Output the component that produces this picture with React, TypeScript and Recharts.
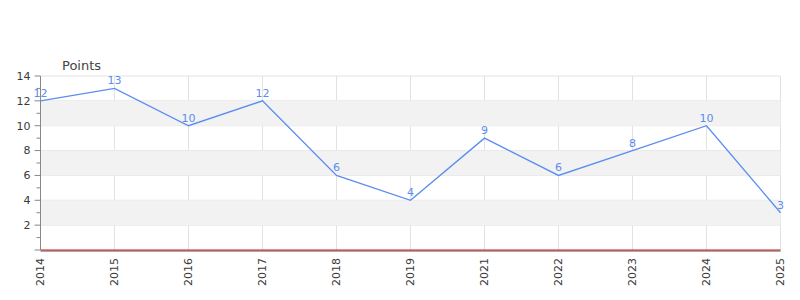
import React from "react";
import {
  LineChart,
  Line,
  XAxis,
  YAxis,
  CartesianGrid,
  ReferenceArea,
  ReferenceLine,
  LabelList,
} from "recharts";

const years = ["2014", "2015", "2016", "2017", "2018", "2019", "2021", "2022", "2023", "2024", "2025"];
const points = [12, 13, 10, 12, 6, 4, 9, 6, 8, 10, 3];
const yTicks = [0, 1, 2, 3, 4, 5, 6, 7, 8, 9, 10, 11, 12, 13, 14];
const gridValues = [2, 4, 6, 8, 10, 12, 14];
const bands: [number, number][] = [
  [2, 4],
  [6, 8],
  [10, 12],
];

const data = years.map((year, i) => ({ year, value: points[i] }));

const FONT = "'DejaVu Sans', Verdana, sans-serif";
const LINE = "#5b8def";

function YTick(props: any) {
  const { x, y, payload } = props;
  const v = payload.value as number;
  const major = v % 2 === 0;
  const x2 = x + 10;
  return (
    <g>
      <line x1={major ? x2 - 6 : x2 - 4} x2={x2} y1={y} y2={y} stroke="#888" />
      {major && v !== 0 && (
        <text x={x} y={y} dy="0.35em" textAnchor="end" fill="#3a3a3a" fontSize={11} fontFamily={FONT}>
          {v}
        </text>
      )}
    </g>
  );
}

function XTick(props: any) {
  const { x, y, payload } = props;
  return (
    <text
      x={x}
      y={y}
      dy="0.35em"
      textAnchor="end"
      transform={`rotate(-90, ${x}, ${y})`}
      fill="#3a3a3a"
      fontSize={11}
      fontFamily={FONT}
    >
      {payload.value}
    </text>
  );
}

// dark base line sitting just under the red zero line
function BaseShadow(props: any) {
  const { x1, x2, y1 } = props;
  return <line x1={x1} x2={x2} y1={y1 + 1} y2={y1 + 1} stroke="#555" strokeWidth={1.2} />;
}

export default function App() {
  return (
    <div style={{ position: "absolute", left: 0, top: 0, width: 800, height: 300, background: "#fff" }}>
      <div
        style={{
          position: "absolute",
          left: 62,
          top: 58,
          fontFamily: FONT,
          fontSize: 13,
          color: "#444",
        }}
      >
        Points
      </div>
      <LineChart width={800} height={300} data={data} margin={{ top: 76, right: 19.5, bottom: 0, left: 0.5 }}>
        {bands.map(([a, b]) => (
          <ReferenceArea key={a} y1={a} y2={b} fill="#f2f2f2" fillOpacity={1} stroke="none" />
        ))}
        <CartesianGrid stroke="#e2e2e2" horizontalValues={gridValues} />
        <ReferenceLine y={0} stroke="#555" shape={<BaseShadow />} />
        <XAxis
          dataKey="year"
          scale="point"
          padding={{ left: 0, right: 0 }}
          interval={0}
          height={50}
          tickLine={false}
          tickSize={0}
          tickMargin={8}
          axisLine={{ stroke: "#d41414", strokeWidth: 1 }}
          tick={<XTick />}
        />
        <YAxis
          width={40}
          domain={[0, 14]}
          ticks={yTicks}
          interval={0}
          tickSize={6}
          tickMargin={4}
          tickLine={false}
          axisLine={{ stroke: "#888" }}
          tick={<YTick />}
        />
        <Line
          type="linear"
          dataKey="value"
          stroke={LINE}
          strokeWidth={1.3}
          dot={false}
          isAnimationActive={false}
        >
          <LabelList dataKey="value" position="top" offset={4} fill={LINE} fontSize={11} fontFamily={FONT} />
        </Line>
      </LineChart>
    </div>
  );
}
